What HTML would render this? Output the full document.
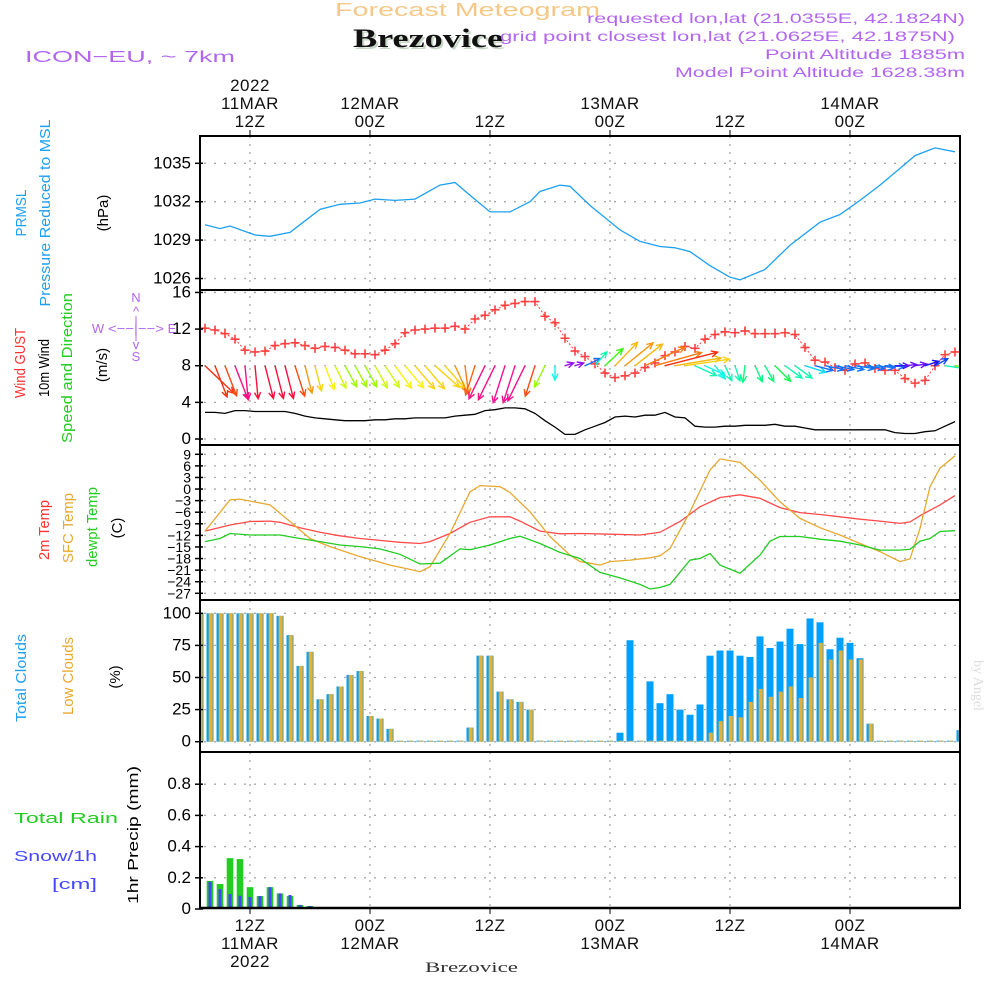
<!DOCTYPE html>
<html><head><meta charset="utf-8"><title>Meteogram Brezovice</title>
<style>
html,body{margin:0;padding:0;background:#fff;}
svg{display:block;}
text{font-family:"Liberation Sans","DejaVu Sans",sans-serif;}
</style></head>
<body>
<svg id="chart" width="1000" height="1000" viewBox="0 0 1000 1000" xmlns="http://www.w3.org/2000/svg">
  <rect x="0" y="0" width="1000" height="1000" fill="#fff"/>
  <!-- Header -->
  <text x="335" y="16" font-size="18" textLength="265" lengthAdjust="spacingAndGlyphs" fill="#f5c887">Forecast Meteogram</text>
  <text x="355" y="49" font-size="26" font-weight="bold" textLength="150" lengthAdjust="spacingAndGlyphs" fill="#c8d6c8" style="font-family:'Liberation Serif',serif">Brezovice</text>
  <text x="353" y="47" font-size="26" font-weight="bold" textLength="150" lengthAdjust="spacingAndGlyphs" fill="#111" style="font-family:'Liberation Serif',serif">Brezovice</text>
  <text x="25" y="62" font-size="16" textLength="210" lengthAdjust="spacingAndGlyphs" fill="#b266f0">ICON−EU, ~ 7km</text>
  <g fill="#b266f0" font-size="14">
    <text x="587" y="23" textLength="378" lengthAdjust="spacingAndGlyphs">requested lon,lat (21.0355E, 42.1824N)</text>
    <text x="500" y="41" textLength="455" lengthAdjust="spacingAndGlyphs">grid point closest lon,lat (21.0625E, 42.1875N)</text>
    <text x="765" y="59" textLength="200" lengthAdjust="spacingAndGlyphs">Point Altitude 1885m</text>
    <text x="675" y="77" textLength="290" lengthAdjust="spacingAndGlyphs">Model Point Altitude 1628.38m</text>
  </g>

  <!-- Left labels -->
  <g font-size="15">
    <text transform="translate(26,213) rotate(-90)" text-anchor="middle" textLength="47" lengthAdjust="spacingAndGlyphs" fill="#1ea0f0">PRMSL</text>
    <text transform="translate(50,213) rotate(-90)" text-anchor="middle" textLength="187" lengthAdjust="spacingAndGlyphs" fill="#1ea0f0">Pressure Reduced to MSL</text>
    <text transform="translate(108,213) rotate(-90)" text-anchor="middle" fill="#000">(hPa)</text>
    <text transform="translate(25,363) rotate(-90)" text-anchor="middle" textLength="70" lengthAdjust="spacingAndGlyphs" fill="#ff3030">Wind GUST</text>
    <text transform="translate(49,368) rotate(-90)" text-anchor="middle" textLength="58" lengthAdjust="spacingAndGlyphs" fill="#000">10m Wind</text>
    <text transform="translate(72,368) rotate(-90)" text-anchor="middle" textLength="150" lengthAdjust="spacingAndGlyphs" fill="#22cc22">Speed and Direction</text>
    <text transform="translate(107,365) rotate(-90)" text-anchor="middle" fill="#000">(m/s)</text>
    <text transform="translate(49,530) rotate(-90)" text-anchor="middle" textLength="60" lengthAdjust="spacingAndGlyphs" fill="#ff3030">2m Temp</text>
    <text transform="translate(73,528) rotate(-90)" text-anchor="middle" textLength="70" lengthAdjust="spacingAndGlyphs" fill="#e8a830">SFC Temp</text>
    <text transform="translate(97,527) rotate(-90)" text-anchor="middle" textLength="80" lengthAdjust="spacingAndGlyphs" fill="#22cc22">dewpt Temp</text>
    <text transform="translate(122,528) rotate(-90)" text-anchor="middle" fill="#000">(C)</text>
    <text transform="translate(26,678) rotate(-90)" text-anchor="middle" textLength="88" lengthAdjust="spacingAndGlyphs" fill="#1ea0f0">Total Clouds</text>
    <text transform="translate(73,676) rotate(-90)" text-anchor="middle" textLength="78" lengthAdjust="spacingAndGlyphs" fill="#e8a830">Low Clouds</text>
    <text transform="translate(120,677) rotate(-90)" text-anchor="middle" fill="#000">(%)</text>
    <text transform="translate(138,835) rotate(-90)" text-anchor="middle" textLength="138" lengthAdjust="spacingAndGlyphs" fill="#000">1hr Precip (mm)</text>
  </g>
  <text x="14" y="823" font-size="15" textLength="104" lengthAdjust="spacingAndGlyphs" fill="#22cc22">Total  Rain</text>
  <text x="14" y="861" font-size="15" textLength="83" lengthAdjust="spacingAndGlyphs" fill="#4848ff">Snow/1h</text>
  <text x="52" y="889" font-size="15" textLength="45" lengthAdjust="spacingAndGlyphs" fill="#4848ff">[cm]</text>

  <!-- compass -->
  <g fill="#b266f0" font-size="13" text-anchor="middle">
    <text x="136" y="302">N</text>
    <text x="136" y="316">^</text>
    <text x="98" y="333">W</text>
    <text x="136" y="333" textLength="56" lengthAdjust="spacingAndGlyphs">&lt;−−|−−&gt;</text>
    <text x="172" y="333">E</text>
    <text x="136" y="349">v</text>
    <text x="136" y="361">S</text>
    <line x1="136" y1="316" x2="136" y2="341" stroke="#b266f0" stroke-width="1"/>
  </g>

  <text transform="translate(974,660) rotate(90)" font-size="14" fill="#dcdcdc" style="font-family:'Liberation Serif',serif">by Angel</text>
  <text x="425" y="972" font-size="15" textLength="93" lengthAdjust="spacingAndGlyphs" fill="#333" style="font-family:'Liberation Serif',serif">Brezovice</text>

  <g id="grid"></g>
  <g id="marks"></g>
  <g id="frame"></g>
  <g id="labels"></g>
</svg>
<script>
// ---------- data (hours since 11MAR 07Z) ----------
const timeTickHours = [5, 17, 29, 41, 53, 65];
const timeTickTop = [["2022","11MAR","12Z"],["12MAR","00Z"],["12Z"],["13MAR","00Z"],["12Z"],["14MAR","00Z"]];
const timeTickBottom = [["12Z","11MAR","2022"],["00Z","12MAR"],["12Z"],["00Z","13MAR"],["12Z"],["00Z","14MAR"]];

const pressureHours = [0.5,2,3,5.5,7,9,10,12,14,16,17.5,19.5,21.5,24,25.5,27,29,31,33,34,36,37,39,42,44,46,47.5,49,51,53,54,56.5,59,62,64,66,68,70,71.5,73.5,75.5];
const pressureVals = [1030.2,1029.9,1030.1,1029.4,1029.3,1029.6,1030.2,1031.4,1031.8,1031.9,1032.2,1032.1,1032.2,1033.3,1033.5,1032.5,1031.2,1031.2,1032,1032.8,1033.3,1033.2,1031.7,1029.8,1028.9,1028.5,1028.4,1028.1,1027,1026.1,1025.9,1026.7,1028.6,1030.4,1031,1032.1,1033.3,1034.6,1035.6,1036.2,1035.9];
const pressureTicks = [1035,1032,1029,1026];

// wind series at hours j+0.5
const gustVals = [12.1,11.9,11.5,10.9,9.7,9.5,9.6,10.2,10.4,10.5,10.2,9.9,10.1,10.0,9.7,9.3,9.3,9.2,9.7,10.4,11.6,11.9,12.0,12.1,12.1,12.3,12.0,13.1,13.5,14.1,14.6,14.8,15.0,15.0,13.4,12.7,11.0,9.6,9.0,8.2,7.2,6.7,6.9,7.2,7.8,8.3,9.1,9.5,10.1,9.9,10.9,11.4,11.7,11.6,11.8,11.5,11.5,11.5,11.6,11.4,10.0,8.6,8.4,7.8,7.5,8.2,8.3,7.7,7.5,7.5,6.6,6.1,6.4,8.0,9.2,9.5];
const windSpeedVals = [2.9,2.9,2.8,3.1,3.1,3.0,3.0,3.0,3.0,2.8,2.5,2.3,2.2,2.1,2.0,2.0,2.0,2.1,2.1,2.2,2.2,2.3,2.3,2.3,2.3,2.5,2.6,2.7,3.1,3.2,3.4,3.4,3.3,2.8,2.0,1.3,0.5,0.5,1.0,1.4,1.8,2.4,2.5,2.4,2.6,2.6,2.9,2.4,2.3,1.4,1.3,1.3,1.4,1.4,1.5,1.5,1.5,1.6,1.4,1.4,1.2,1.0,1.0,1.0,1.0,1.0,1.0,1.0,1.0,0.7,0.6,0.6,0.8,0.9,1.4,1.9];
const windDirToVals = [150,168,168,168,177,177,172,172,172,170,172,172,168,165,163,163,163,163,160,158,155,155,155,148,154,166,176,190,195,195,190,190,195,190,195,180,60,60,50,25,30,28,34,35,50,63,65,73,75,130,130,157,166,170,184,166,163,151,143,143,120,115,110,110,110,105,105,100,95,90,80,75,60,45,105,105];
const windTicks = [16,12,8,4,0];

const t2Hours = [0.5,3,5,7,8,10,12,14,16,18,20,22,23,25,27,29,31,32,34,36,38,41,44,46,48,50,52,54,56,58,60,62,64,66,68,70,71,72,74,75.5];
const t2Vals = [-10.9,-9.3,-8.4,-8.3,-8.6,-10,-11.2,-12.1,-12.8,-13.3,-13.8,-14.1,-13.6,-11.5,-8.6,-7.2,-7.2,-8.3,-10.9,-11.6,-11.5,-11.7,-11.9,-11.2,-8.4,-4.6,-2.2,-1.5,-2.4,-4.8,-6.1,-6.6,-7.2,-7.8,-8.3,-8.9,-8.5,-6.9,-4.1,-1.7];
const sfcHours = [0.5,3,4,7,9,11,13,16,19,21,22,23,25,27,28,30,31,33,35,37,38,39,40,41,43,45,46,47,49,51,52,54,56,58,60,62,64,66,68,70,71,72,73,74,75.5];
const sfcVals = [-10.9,-2.8,-2.6,-4.1,-8.4,-12.8,-14.9,-17.5,-19.7,-20.8,-21.4,-20.1,-11.5,-0.7,0.9,0.6,-0.9,-5.9,-12.3,-17.1,-18.8,-19.2,-19.7,-18.8,-18.4,-17.8,-17.3,-15.4,-5.9,4.9,7.8,6.9,2.3,-3.3,-7.6,-10,-11.9,-14.1,-16.2,-18.8,-18.1,-10.2,0.6,5.4,8.6];
const dewHours = [0.5,2,3,5,8,10,12,14,16,18,20,22,24,26,27,29,31,32,34,36,38,40,42,44,45,46,47,49,50,51,52,54,56,57,58,60,62,64,66,68,70,71,72,73,74,75.5];
const dewVals = [-13.6,-12.8,-11.5,-11.9,-11.9,-12.8,-13.6,-14.5,-14.9,-15.5,-16.9,-19.4,-19.2,-15.5,-15.7,-14.5,-12.8,-12.2,-14.1,-16.4,-18,-21.6,-23,-24.7,-25.9,-25.5,-24.7,-18.4,-18,-16.7,-19.7,-21.8,-17.1,-13.5,-12.3,-12.3,-13,-13.5,-14.5,-15.8,-15.8,-15.6,-13.5,-12.8,-11,-10.8];
const tempTicks = [9,6,3,0,-3,-6,-9,-12,-15,-18,-21,-24,-27];

// clouds at hours 0..76
const totalCloudVals = [100,100,100,100,100,100,100,100,98,83,59,70,33,37,43,52,55,20,18,10,0,0,0,0,0,0,0,11,67,67,39,33,31,25,0,0,0,0,0,0,0,0,7,79,0,47,30,37,25,21,29,67,71,71,67,66,82,73,78,88,76,96,93,72,81,77,65,14,0,0,0,0,0,0,0,0,9];
const lowCloudVals = [100,100,100,100,100,100,100,100,98,83,59,70,33,37,43,52,55,20,18,10,0,0,0,0,0,0,0,11,67,67,39,33,31,25,0,0,0,0,0,0,0,0,0,0,0,0,0,0,0,0,0,7,16,20,19,31,41,35,39,43,34,50,77,64,71,64,64,14,0,0,0,0,0,0,0,0,9];
const cloudTicks = [100,75,50,25,0];

const precipHours = [1,2,3,4,5,6,7,8,9,10,11,12,13];
const rainVals = [0.18,0.16,0.326,0.32,0.14,0.083,0.14,0.10,0.083,0.026,0.019,0.013,0.006];
const snowVals = [0.175,0.128,0.096,0.085,0.077,0.083,0.14,0.10,0.09,0.026,0.019,0.013,0.006];
const precipTicks = [0.8,0.6,0.4,0.2,0];

// ---------- scales ----------
const X0 = 200, X1 = 960;
const xS = h => X0 + h * 10;
const yP = p => 163.3 + (1035 - p) * 12.8;
const yW = v => 439 - v * 9.16;
const yT = t => 454.3 + (9 - t) * 3.861;
const yC = c => 741.7 - c * 1.284;
const yR = r => 909 - r * 156;
const panels = [[136,290],[290,445],[445,600],[600,752],[752,908]];

const NS = "http://www.w3.org/2000/svg";
function mk(tag, attrs, parent) {
  const e = document.createElementNS(NS, tag);
  for (const k in attrs) e.setAttribute(k, attrs[k]);
  parent.appendChild(e);
  return e;
}
const grid = document.getElementById('grid');
const marks = document.getElementById('marks');
const frame = document.getElementById('frame');
const labels = document.getElementById('labels');

const defs = mk('defs', {}, document.getElementById('chart'));
const cp = mk('clipPath', {id: 'plotclip'}, defs);
mk('rect', {x: X0, y: 136, width: X1 - X0, height: 772}, cp);
marks.setAttribute('clip-path', 'url(#plotclip)');

timeTickHours.forEach(h => {
  const l = mk('line', {x1: xS(h), x2: xS(h), y1: 136, y2: 908, stroke: '#a8a8a8', 'stroke-width': 1.3, 'stroke-dasharray': '2,6'}, grid);
  
  
});
function hGrid(y, name) {
  const l = mk('line', {x1: X0 + 4, x2: X1, y1: y, y2: y, stroke: '#a8a8a8', 'stroke-width': 1.3, 'stroke-dasharray': '2,8'}, grid);
  
  
}
function yLabel(y, txt, name, fs) {
  const t = mk('text', {x: 191, y: y + 5, 'text-anchor': 'end', 'font-size': fs || 16, fill: '#000'}, labels);
  t.textContent = txt;
  
  
  mk('line', {x1: 195, x2: 203, y1: y, y2: y, stroke: '#000', 'stroke-width': 1.5}, frame);
}
pressureTicks.forEach(p => { hGrid(yP(p), 'pressure-gridline'); yLabel(yP(p), String(p), 'pressure-tick-label', 17); });
windTicks.forEach(v => { hGrid(yW(v), 'wind-gridline'); yLabel(yW(v), String(v), 'wind-tick-label', 17); });
tempTicks.forEach(t => { hGrid(yT(t), 'temp-gridline'); yLabel(yT(t), (t < 0 ? '−' : '') + Math.abs(t), 'temp-tick-label', 14); });
cloudTicks.forEach(c => { hGrid(yC(c), 'cloud-gridline'); yLabel(yC(c), String(c), 'cloud-tick-label', 17); });
precipTicks.forEach(r => { if (r > 0) hGrid(yR(r), 'precip-gridline'); yLabel(yR(r), r === 0 ? '0' : r.toFixed(1), 'precip-tick-label', 17); });

function linePath(hours, vals, yf) {
  return hours.map((h, i) => (i ? 'L' : 'M') + xS(h).toFixed(1) + ',' + yf(vals[i]).toFixed(1)).join(' ');
}
const pl = mk('path', {d: linePath(pressureHours, pressureVals, yP), fill: 'none', stroke: '#1ea0f0', 'stroke-width': 1.3}, marks);



const windHours = gustVals.map((v, j) => j + 0.5);
const gl = mk('path', {d: linePath(windHours, gustVals, yW), fill: 'none', stroke: '#ff4040', 'stroke-width': 1, 'stroke-dasharray': '2,2'}, marks);


gustVals.forEach((v, j) => {
  const x = xS(windHours[j]), y = yW(v);
  const g = mk('path', {d: `M${x-4.5},${y}H${x+4.5}M${x},${y-4.5}V${y+4.5}`, stroke: '#ff4040', 'stroke-width': 1.6, fill: 'none'}, marks);
  
  
});
const huestops = [[0.5,275],[1.0,215],[1.3,175],[1.8,110],[2.2,58],[2.5,35],[2.9,8],[3.1,-30],[3.5,-35]];
function hueFor(v) {
  if (v <= huestops[0][0]) return huestops[0][1];
  for (let i = 1; i < huestops.length; i++) {
    if (v <= huestops[i][0]) {
      const a = huestops[i-1], b = huestops[i];
      return a[1] + (b[1] - a[1]) * (v - a[0]) / (b[0] - a[0]);
    }
  }
  return huestops[huestops.length-1][1];
}
const SX = 20, SY = 11;
windDirToVals.forEach((d, j) => {
  const sp = windSpeedVals[j];
  const r = d * Math.PI / 180;
  const u = Math.sin(r) * sp, v = Math.cos(r) * sp;
  const x0 = xS(windHours[j]), y0 = yW(8);
  const x1 = x0 + u * SX, y1 = y0 - v * SY;
  const ang = Math.atan2(y1 - y0, x1 - x0);
  const hl = 7;
  const a1 = ang + Math.PI - 0.45, a2 = ang + Math.PI + 0.45;
  let hue = hueFor(sp); if (hue < 0) hue += 360;
  const col = `hsl(${hue.toFixed(0)},95%,52%)`;
  const ar = mk('path', {d: `M${x0.toFixed(1)},${y0.toFixed(1)}L${x1.toFixed(1)},${y1.toFixed(1)}M${(x1+hl*Math.cos(a1)).toFixed(1)},${(y1+hl*Math.sin(a1)).toFixed(1)}L${x1.toFixed(1)},${y1.toFixed(1)}L${(x1+hl*Math.cos(a2)).toFixed(1)},${(y1+hl*Math.sin(a2)).toFixed(1)}`, stroke: col, 'stroke-width': 1.4, fill: 'none'}, marks);
  
  
});
const wl = mk('path', {d: linePath(windHours, windSpeedVals, yW), fill: 'none', stroke: '#000', 'stroke-width': 1.3}, marks);



const tl = mk('path', {d: linePath(t2Hours, t2Vals, yT), fill: 'none', stroke: '#ff4a4a', 'stroke-width': 1.3}, marks);


const sl = mk('path', {d: linePath(sfcHours, sfcVals, yT), fill: 'none', stroke: '#e8a830', 'stroke-width': 1.3}, marks);


const dl = mk('path', {d: linePath(dewHours, dewVals, yT), fill: 'none', stroke: '#22cc22', 'stroke-width': 1.3}, marks);



totalCloudVals.forEach((c, k) => {
  const x = xS(k);
  const y = yC(c);
  const b = mk('rect', {x: x - 3.5, y: Math.min(y, yC(0) - 1), width: 7, height: Math.max(1, yC(0) - y), fill: '#00a0ff'}, marks);
  
  
  const lc = lowCloudVals[k];
  const yl = yC(lc);
  const o = mk('rect', {x: x - 1.3, y: Math.min(yl, yC(0) - 1), width: 4, height: Math.max(1, yC(0) - yl), fill: '#e8b030'}, marks);
  
  
});

precipHours.forEach((h, i) => {
  const x = xS(h);
  const g = mk('rect', {x: x - 3.3, y: yR(rainVals[i]), width: 6.6, height: yR(0) - yR(rainVals[i]), fill: '#22cc22'}, marks);
  
  
  const s = mk('rect', {x: x - 1.5, y: yR(snowVals[i]), width: 3, height: yR(0) - yR(snowVals[i]), fill: '#4444ff'}, marks);
  
  
});

panels.forEach((p, i) => {
  const r = mk('rect', {x: X0, y: p[0], width: X1 - X0, height: p[1] - p[0], fill: 'none', stroke: '#000', 'stroke-width': 2}, frame);
  
  
});
mk('line', {x1: X0, x2: X1, y1: 908, y2: 908, stroke: '#000', 'stroke-width': 2.5}, frame);

timeTickHours.forEach((h, i) => {
  const x = xS(h);
  mk('line', {x1: x, x2: x, y1: 130, y2: 136, stroke: '#000', 'stroke-width': 1}, frame);
  mk('line', {x1: x, x2: x, y1: 908, y2: 914, stroke: '#000', 'stroke-width': 1}, frame);
  const top = timeTickTop[i];
  top.forEach((s, r) => {
    const y = 127 - (top.length - 1 - r) * 18;
    const t = mk('text', {x: x, y: y, 'text-anchor': 'middle', 'font-size': 17, 'letter-spacing': 0.5, fill: '#111'}, labels);
    t.textContent = s;
    
    
  });
  timeTickBottom[i].forEach((s, r) => {
    const t = mk('text', {x: x, y: 931 + r * 18, 'text-anchor': 'middle', 'font-size': 17, 'letter-spacing': 0.5, fill: '#111'}, labels);
    t.textContent = s;
    
    
  });
});
</script>
</body></html>
